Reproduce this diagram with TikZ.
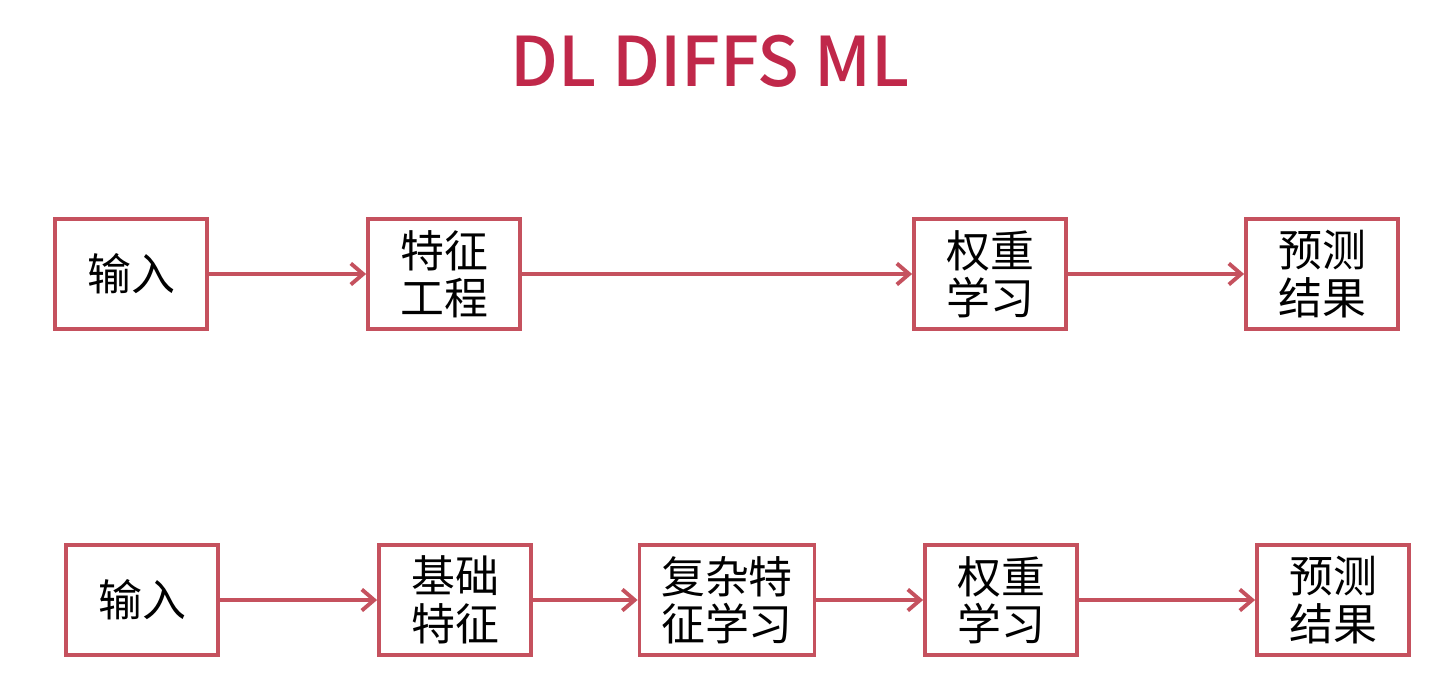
\documentclass[tikz,border=0pt]{standalone}
\usepackage{fontspec}
\setmainfont{Noto Sans CJK SC}
\newfontfamily\titlefont{Noto Sans CJK SC Medium}
\usetikzlibrary{arrows.meta}
\definecolor{boxred}{HTML}{C5515E}
\definecolor{titlered}{HTML}{C0284A}

\tikzset{
  box/.style={draw=boxred,line width=2.2pt,minimum width=3.04cm,
    minimum height=2.2cm,inner sep=0pt,align=center,
    font=\fontsize{25}{27}\selectfont},
  flow/.style={draw=boxred,line width=2.2pt,
    -{Straight Barb[length=7pt,width=12pt,line width=2.2pt]}}
}

\begin{document}
\begin{tikzpicture}[x=0.02cm,y=-0.02cm]
  \useasboundingbox (0,0) rectangle (1456,676);
  \node[text=titlered,font=\titlefont\fontsize{39}{41}\selectfont]
    (title) at (710,61) {DL DIFFS ML};

  \node[box] (inA) at (131,274) {输入};
  \node[box] (feat) at (444,274) {特征\\工程};
  \node[box] (wA) at (990,274) {权重\\学习};
  \node[box] (predA) at (1322,274) {预测\\结果};
  \draw[flow] (inA) -- (feat);
  \draw[flow] (feat) -- (wA);
  \draw[flow] (wA) -- (predA);

  \node[box] (inB) at (142,600) {输入};
  \node[box] (base) at (455,600) {基础\\特征};
  \node[box,minimum width=3.5cm] (deep) at (727,600) {复杂特\\征学习};
  \node[box] (wB) at (1001,600) {权重\\学习};
  \node[box] (predB) at (1333,600) {预测\\结果};
  \draw[flow] (inB) -- (base);
  \draw[flow] (base) -- (deep);
  \draw[flow] (deep) -- (wB);
  \draw[flow] (wB) -- (predB);
\end{tikzpicture}
\end{document}
